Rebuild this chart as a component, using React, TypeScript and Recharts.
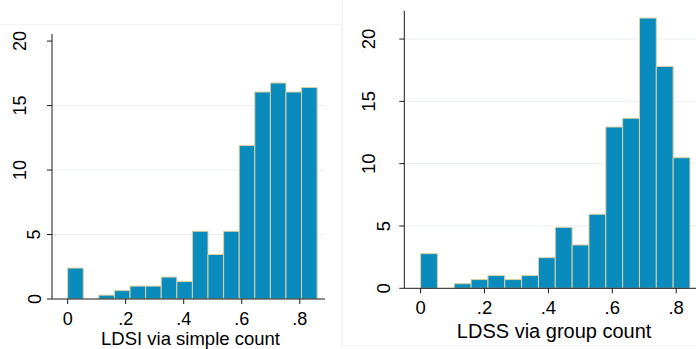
import React from "react";
import { BarChart, Bar, XAxis, YAxis, CartesianGrid } from "recharts";

// ---- Data ----
const leftBinWidth = 0.05375;
const leftCounts = [2.4, 0, 0.3, 0.65, 1.0, 1.0, 1.7, 1.35, 5.25, 3.45, 5.25, 11.9, 16.05, 16.75, 16.05, 16.4];
const rightBinWidth = 0.0527;
const rightCounts = [2.78, 0, 0.37, 0.7, 1.02, 0.7, 1.02, 2.46, 4.89, 3.48, 5.94, 12.94, 13.64, 21.68, 17.8, 10.48];

const xTicks = [0, 0.2, 0.4, 0.6, 0.8];
const yTicks = [0, 5, 10, 15, 20];
const leftGrid = [5, 10, 15];
const rightGrid = [5, 10, 15, 20];
const leftTitle = "LDSI via simple count";
const rightTitle = "LDSS via group count";

const leftData = leftCounts.map((v, i) => ({ x: (i + 0.5) * leftBinWidth, y: v }));
const rightData = rightCounts.map((v, i) => ({ x: (i + 0.5) * rightBinWidth, y: v }));

const fmtX = (v: number) => (v === 0 ? "0" : String(Number(v.toFixed(1))).replace(/^0\./, "."));

const FILL = "#0a8bbd";
const EDGE = "#d9d1a2";
const GRID = "#e9efef";
const AXIS = "#1a1a1a";

const makeYTick = (nearOff: number, farOff: number, fs: number) => (props: any) => {
  const { x, y, payload } = props;
  const label = String(payload.value);
  const cx = x - (label.length === 1 ? nearOff : farOff);
  return (
    <text
      x={cx}
      y={y}
      transform={`rotate(-90 ${cx} ${y})`}
      textAnchor="middle"
      dominantBaseline="central"
      fontSize={fs}
      fill="#000"
    >
      {label}
    </text>
  );
};

type PanelProps = {
  width: number;
  height: number;
  data: { x: number; y: number }[];
  binWidth: number;
  xDomain: [number, number];
  yDomain: [number, number];
  grid: number[];
  title: string;
  margin: { top: number; right: number; bottom: number; left: number };
  yAxisWidth: number;
  xAxisHeight: number;
  labelOffset: number;
  labelDx: number;
  labelSize: number;
  tickSize: number;
  yTick: (p: any) => React.ReactElement;
};

const Panel = (p: PanelProps) => {
  const plotW = p.width - p.margin.left - p.margin.right - p.yAxisWidth;
  const barPx = (plotW / (p.xDomain[1] - p.xDomain[0])) * p.binWidth;
  return (
    <BarChart width={p.width} height={p.height} data={p.data} margin={p.margin}>
      <CartesianGrid
        vertical={false}
        horizontalValues={p.grid}
        stroke={GRID}
        strokeWidth={1}
      />
      <XAxis
        dataKey="x"
        type="number"
        domain={p.xDomain}
        allowDataOverflow
        ticks={xTicks}
        tickFormatter={fmtX}
        height={p.xAxisHeight}
        tickSize={5}
        tickMargin={8}
        tick={{ fontSize: p.tickSize, fill: "#000" }}
        stroke={AXIS}
        axisLine={{ stroke: AXIS }}
        tickLine={{ stroke: AXIS }}
        label={{
          value: p.title,
          position: "insideBottom",
          offset: p.labelOffset,
          dx: p.labelDx,
          fontSize: p.labelSize,
          fill: "#000",
        }}
      />
      <YAxis
        type="number"
        domain={p.yDomain}
        allowDataOverflow
        ticks={yTicks}
        width={p.yAxisWidth}
        tickSize={5}
        tickMargin={0}
        tick={p.yTick}
        axisLine={{ stroke: AXIS }}
        tickLine={{ stroke: AXIS }}
      />
      <Bar
        dataKey="y"
        fill={FILL}
        stroke={EDGE}
        strokeWidth={1}
        barSize={barPx * 0.999}
        isAnimationActive={false}
      />
    </BarChart>
  );
};

export default function App() {
  return (
    <div
      style={{
        position: "absolute",
        left: 0,
        top: 0,
        width: 696,
        height: 349,
        background: "#fff",
        fontFamily: "'Liberation Sans', Arial, sans-serif",
        overflow: "hidden",
      }}
    >
      <div
        style={{
          position: "absolute",
          left: 0,
          top: 24,
          width: 342,
          height: 325,
          borderTop: "1px solid #f3f4f4",
          borderRight: "1px solid #f3f4f4",
          boxSizing: "border-box",
        }}
      />
      <div
        style={{
          position: "absolute",
          left: 342,
          top: 0,
          width: 354,
          height: 346,
          borderLeft: "1px solid #f3f4f4",
          borderBottom: "1px solid #f3f4f4",
          boxSizing: "border-box",
        }}
      />
      <div style={{ position: "absolute", left: 0, top: 0 }}>
        <Panel
          width={342}
          height={349}
          data={leftData}
          binWidth={leftBinWidth}
          xDomain={[-0.054, 0.887]}
          yDomain={[0, 20.55]}
          grid={leftGrid}
          title={leftTitle}
          margin={{ top: 34, right: 17, bottom: 0, left: 0 }}
          yAxisWidth={52}
          xAxisHeight={50}
          labelOffset={4}
          labelDx={2}
          labelSize={18.5}
          tickSize={18}
          yTick={makeYTick(12.5, 26.5, 18)}
        />
      </div>
      <div style={{ position: "absolute", left: 342, top: 0 }}>
        <Panel
          width={354}
          height={349}
          data={rightData}
          binWidth={rightBinWidth}
          xDomain={[-0.051, 0.862]}
          yDomain={[0, 22.25]}
          grid={rightGrid}
          title={rightTitle}
          margin={{ top: 11, right: 0, bottom: 0, left: 0 }}
          yAxisWidth={62.3}
          xAxisHeight={60.7}
          labelOffset={11}
          labelDx={4}
          labelSize={20}
          tickSize={18.5}
          yTick={makeYTick(16, 31, 18.5)}
        />
      </div>
    </div>
  );
}
